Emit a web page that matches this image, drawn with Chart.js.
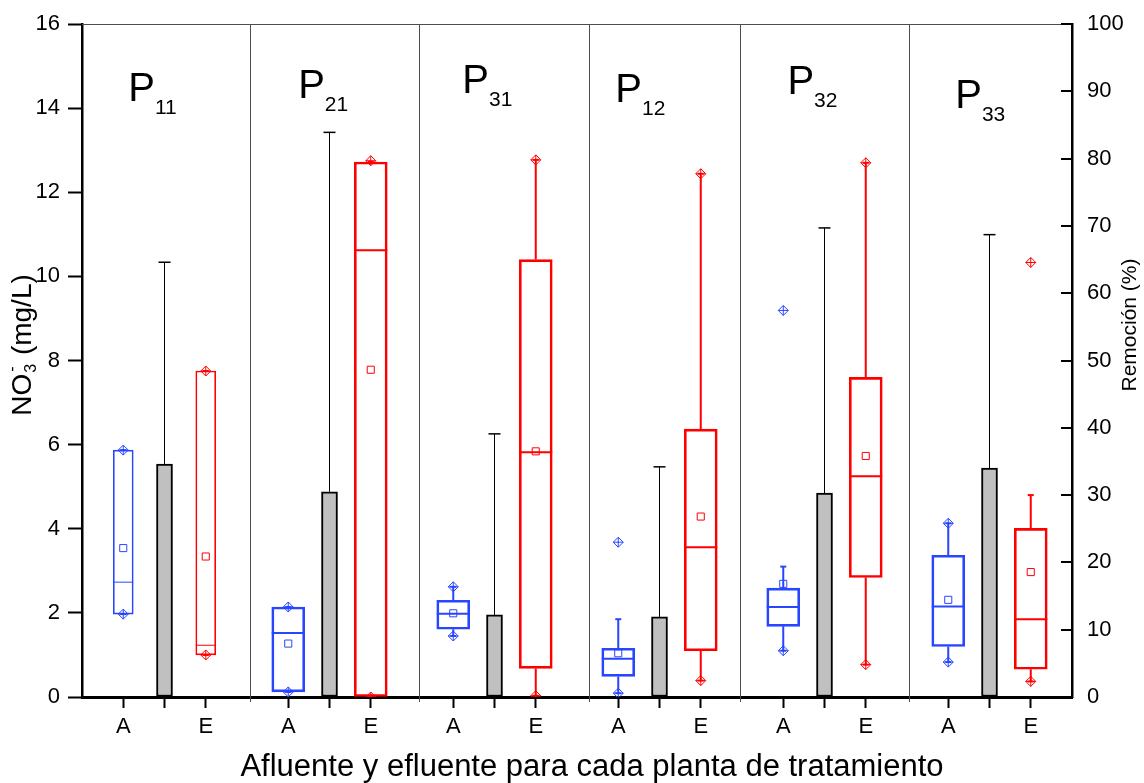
<!DOCTYPE html>
<html>
<head>
<meta charset="utf-8">
<script src="https://cdn.jsdelivr.net/npm/chart.js@4.4.0/dist/chart.umd.min.js"></script>
<style>
  html, body { margin: 0; padding: 0; background: #fff; }
  #wrap { width: 1144px; height: 783px; }
</style>
</head>
<body>
<div id="wrap"><canvas id="chart" width="1144" height="783"></canvas></div>
<script>
var familia = '"Liberation Sans", Arial, Helvetica, sans-serif';

// plantas de tratamiento (subindice de P)
var plantas = ['11', '21', '31', '12', '32', '33'];
var etiquetasX = ['A', 'E'];

// Afluente: NO3- (mg/L)
var afQ1 = [1.97, 0.12, 1.61, 0.49, 1.68, 1.20];
var afMediana = [2.73, 1.52, 1.98, 0.91, 2.14, 2.15];
var afQ3 = [5.87, 2.14, 2.30, 1.16, 2.59, 3.37];
var afBigoteInf = [1.97, 0.12, 1.45, 0.09, 1.10, 0.83];
var afBigoteSup = [5.87, 2.14, 2.62, 1.85, 3.10, 4.13];
var afMedia = [3.54, 1.27, 1.99, 1.04, 2.69, 2.31];
var afMin = [1.97, 0.12, 1.45, 0.09, 1.10, 0.83];
var afMax = [5.87, 2.14, 2.62, 3.68, 9.19, 4.13];

// Efluente: NO3- (mg/L)
var efQ1 = [1.00, 0.00, 0.68, 1.10, 2.84, 0.66];
var efMediana = [1.23, 10.62, 5.82, 3.56, 5.25, 1.85];
var efQ3 = [7.75, 12.72, 10.40, 6.37, 7.60, 4.01];
var efBigoteInf = [1.00, 0.00, 0.03, 0.39, 0.77, 0.37];
var efBigoteSup = [7.75, 12.72, 12.77, 12.44, 12.70, 4.80];
var efMedia = [3.34, 7.78, 5.84, 4.29, 5.73, 2.97];
var efMin = [1.00, 0.00, 0.03, 0.39, 0.77, 0.37];
var efMax = [7.75, 12.75, 12.77, 12.44, 12.70, 10.33];

// Remocion (%) y desviacion estandar
var remocion = [34.6, 30.5, 12.2, 11.9, 30.3, 34.0];
var remocionDE = [30.0, 53.4, 26.9, 22.3, 39.4, 34.7];

// lineas que separan cada planta (en unidades del eje x)
var divisiones = [4.08, 8.16, 12.28, 15.96, 20.06];

// estilo de las cajas por planta
var anchoCaja = [20, 33, 33, 33, 33, 33];
var grosor = [1, 2, 2, 2, 2, 2];
var azul = 'rgb(40,70,255)';
var rojo = 'rgb(255,0,0)';

// posicion de los rotulos P (x en unidades del eje, y en mg/L)
var rotulos = [
    { x: 1.12, y: 14.17 },
    { x: 5.24, y: 14.24 },
    { x: 9.22, y: 14.36 },
    { x: 12.93, y: 14.15 },
    { x: 17.1, y: 14.34 },
    { x: 21.17, y: 14.0 }
];

var tituloX = 'Afluente y efluente para cada planta de tratamiento';
var tituloY2 = 'Remoción (%)';

function slotA(i) { return 4 * i + 1; }
function slotR(i) { return 4 * i + 2; }
function slotE(i) { return 4 * i + 3; }

function cajas(q1, q3, color, slot) {
    return q1.map(function (v, i) {
        return {
            type: 'bar',
            data: [{ x: slot(i), y: [v, q3[i]] }],
            backgroundColor: 'rgba(255,255,255,0)',
            borderColor: color,
            borderWidth: grosor[i],
            borderSkipped: false,
            barThickness: anchoCaja[i],
            grouped: false,
            order: 5
        };
    });
}

function bigotes(q1, q3, inf, sup, color, slot) {
    var d = [];
    for (var i = 0; i < q1.length; i++) {
        var x = slot(i);
        d.push({ x: x, y: inf[i] }, { x: x, y: q1[i] }, { x: x, y: null });
        d.push({ x: x, y: q3[i] }, { x: x, y: sup[i] }, { x: x, y: null });
    }
    return {
        type: 'line', data: d, borderColor: color, borderWidth: 2,
        pointRadius: 0, spanGaps: false, order: 4
    };
}

function puntos(valores, slot, estilo, radio, color, ancho, orden) {
    return {
        type: 'line',
        data: valores.map(function (v, i) { return { x: slot(i), y: v }; }),
        showLine: false,
        pointStyle: estilo,
        pointRadius: radio,
        pointBorderColor: color,
        pointBackgroundColor: 'rgba(255,255,255,0)',
        pointBorderWidth: ancho,
        order: orden
    };
}

var radioMediana = anchoCaja.map(function (w) { return w / 2; });

var datasets = []
    .concat(cajas(afQ1, afQ3, azul, slotA))
    .concat(cajas(efQ1, efQ3, rojo, slotE))
    .concat([
        {
            type: 'bar',
            yAxisID: 'y2',
            data: remocion.map(function (v, i) { return { x: slotR(i), y: v }; }),
            backgroundColor: 'rgb(192,192,192)',
            borderColor: '#000',
            borderWidth: 2,
            borderSkipped: false,
            barThickness: 16,
            grouped: false,
            order: 5
        },
        bigotes(afQ1, afQ3, afBigoteInf, afBigoteSup, azul, slotA),
        bigotes(efQ1, efQ3, efBigoteInf, efBigoteSup, rojo, slotE),
        {
            // barra de error (solo hacia arriba)
            type: 'line',
            yAxisID: 'y2',
            data: (function () {
                var d = [];
                remocion.forEach(function (v, i) {
                    d.push({ x: slotR(i), y: v }, { x: slotR(i), y: v + remocionDE[i] }, { x: slotR(i), y: null });
                });
                return d;
            })(),
            borderColor: '#000', borderWidth: 1, pointRadius: 0, spanGaps: false, order: 6
        },
        Object.assign(puntos(remocion.map(function (v, i) { return v + remocionDE[i]; }), slotR, 'line', 6, '#000', 1.5, 4), { yAxisID: 'y2' }),
        puntos(afBigoteInf, slotA, 'line', 3, azul, 2, 3),
        puntos(afBigoteSup, slotA, 'line', 3, azul, 2, 3),
        puntos(efBigoteInf, slotE, 'line', 3, rojo, 2, 3),
        puntos(efBigoteSup, slotE, 'line', 3, rojo, 2, 3),
        puntos(afMediana, slotA, 'line', radioMediana, azul, grosor, 3),
        puntos(efMediana, slotE, 'line', radioMediana, rojo, grosor, 3),
        puntos(afMedia, slotA, 'rect', 5, azul, 1, 1),
        puntos(efMedia, slotE, 'rect', 5, rojo, 1, 1),
        puntos(afMin, slotA, 'rectRot', 5, azul, 1, 1),
        puntos(afMax, slotA, 'rectRot', 5, azul, 1, 1),
        puntos(afMin, slotA, 'cross', 5, azul, 1, 1),
        puntos(afMax, slotA, 'cross', 5, azul, 1, 1),
        puntos(efMin, slotE, 'rectRot', 5, rojo, 1, 1),
        puntos(efMax, slotE, 'rectRot', 5, rojo, 1, 1),
        puntos(efMin, slotE, 'cross', 5, rojo, 1, 1),
        puntos(efMax, slotE, 'cross', 5, rojo, 1, 1)
    ]);

var ticksX = [];
plantas.forEach(function (p, i) { ticksX.push(slotA(i), slotR(i), slotE(i)); });

var adornos = {
    id: 'adornos',
    beforeDatasetsDraw: function (chart) {
        var ctx = chart.ctx, a = chart.chartArea, sx = chart.scales.x;
        ctx.save();
        ctx.strokeStyle = '#4d4d4d';
        ctx.lineWidth = 1;
        ctx.beginPath();
        divisiones.forEach(function (v) {
            var px = Math.round(sx.getPixelForValue(v)) + 0.5;
            ctx.moveTo(px, a.top);
            ctx.lineTo(px, a.bottom + 5);
        });
        ctx.moveTo(a.left, Math.round(a.top) + 0.5);
        ctx.lineTo(a.right, Math.round(a.top) + 0.5);
        ctx.stroke();
        ctx.restore();
    },
    afterDraw: function (chart) {
        var ctx = chart.ctx, a = chart.chartArea;
        var sx = chart.scales.x, sy = chart.scales.y, s2 = chart.scales.y2;
        ctx.save();
        // marcas hacia adentro del eje derecho
        ctx.strokeStyle = '#000';
        ctx.lineWidth = 2;
        ctx.beginPath();
        s2.ticks.forEach(function (t) {
            var py = Math.round(s2.getPixelForValue(t.value));
            ctx.moveTo(a.right - 11, py);
            ctx.lineTo(a.right, py);
        });
        ctx.stroke();

        ctx.fillStyle = '#000';
        ctx.textAlign = 'left';
        ctx.textBaseline = 'alphabetic';

        // rotulos de cada planta
        rotulos.forEach(function (r, i) {
            var px = sx.getPixelForValue(r.x);
            var py = sy.getPixelForValue(r.y);
            ctx.font = '40px ' + familia;
            ctx.fillText('P', px, py);
            var w = ctx.measureText('P').width;
            ctx.font = '21px ' + familia;
            ctx.fillText(plantas[i], px + w, py + 13);
        });

        // titulo eje x
        ctx.textAlign = 'center';
        ctx.font = '31px ' + familia;
        ctx.fillText(tituloX, 592, 776);

        // titulo eje izquierdo
        ctx.save();
        ctx.translate(23, 345);
        ctx.rotate(-Math.PI / 2);
        ctx.textAlign = 'left';
        ctx.textBaseline = 'middle';
        ctx.font = '28px ' + familia;
        var w1 = ctx.measureText('NO').width;
        var w2 = ctx.measureText(' (mg/L)').width;
        ctx.font = '16px ' + familia;
        var w3 = ctx.measureText('3').width + 2;
        var x0 = -(w1 + w2 + w3) / 2;
        ctx.font = '28px ' + familia;
        ctx.fillText('NO', x0, 0);
        ctx.font = '16px ' + familia;
        ctx.fillText('3', x0 + w1 + 1, 9);
        ctx.fillText('-', x0 + w1 + 2, -10);
        ctx.font = '28px ' + familia;
        ctx.fillText(' (mg/L)', x0 + w1 + w3, 0);
        ctx.restore();

        // titulo eje derecho
        ctx.save();
        ctx.translate(1130, 325);
        ctx.rotate(-Math.PI / 2);
        ctx.textBaseline = 'middle';
        ctx.textAlign = 'center';
        ctx.font = '21px ' + familia;
        ctx.fillText(tituloY2, 0, 0);
        ctx.restore();

        ctx.restore();
    }
};

Chart.defaults.font.family = familia;
Chart.defaults.color = '#000';

var ctx = document.getElementById('chart').getContext('2d');
var myChart = new Chart(ctx, {
    type: 'bar',
    data: { datasets: datasets },
    options: {
        responsive: false,
        animation: false,
        events: [],
        layout: { padding: { top: 24, left: 0, right: 0, bottom: 0 } },
        plugins: { legend: { display: false }, tooltip: { enabled: false } },
        scales: {
            x: {
                type: 'linear',
                min: 0,
                max: 24,
                offset: false,
                afterBuildTicks: function (s) {
                    s.ticks = ticksX.map(function (v) { return { value: v }; });
                },
                afterFit: function (s) { s.height = 86; },
                ticks: {
                    autoSkip: false,
                    maxRotation: 0,
                    padding: 6,
                    font: { size: 22 },
                    callback: function (v) {
                        var r = v % 4;
                        return r === 1 ? etiquetasX[0] : (r === 3 ? etiquetasX[1] : '');
                    }
                },
                grid: { drawOnChartArea: false, offset: false, tickLength: 11, tickWidth: 2, tickColor: '#000' },
                border: { color: '#000', width: 3 }
            },
            y: {
                position: 'left',
                min: 0,
                max: 16,
                afterFit: function (s) { s.width = 82; s.paddingTop = 0; s.paddingBottom = 0; },
                ticks: { stepSize: 2, padding: 8, font: { size: 22 } },
                grid: { drawOnChartArea: false, tickLength: 14, tickWidth: 2, tickColor: '#000' },
                border: { color: '#000', width: 2.5 }
            },
            y2: {
                position: 'right',
                min: 0,
                max: 100,
                afterFit: function (s) { s.width = 72; s.paddingTop = 0; s.paddingBottom = 0; },
                ticks: { stepSize: 10, padding: 15, font: { size: 22 } },
                grid: { drawOnChartArea: false, drawTicks: false },
                border: { color: '#000', width: 2.5 }
            }
        }
    },
    plugins: [adornos]
});
</script>
</body>
</html>
